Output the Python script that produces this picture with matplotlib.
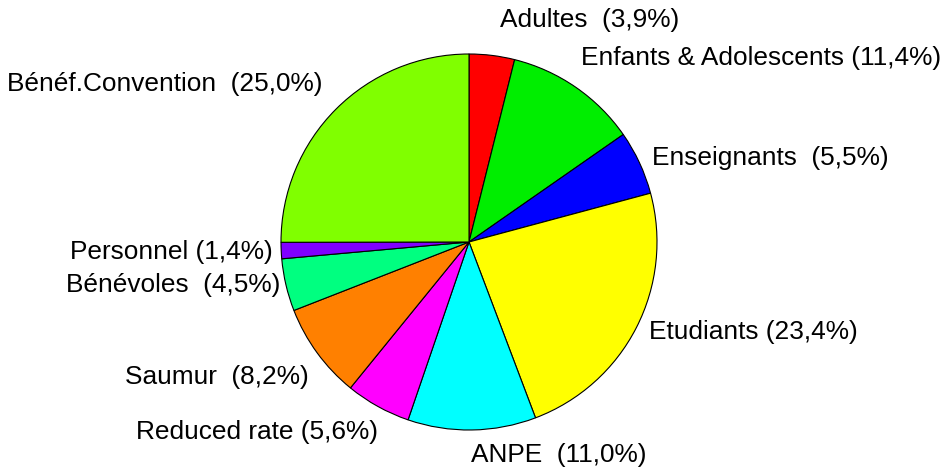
import matplotlib.pyplot as plt

# parts of the audience, clockwise from the top
labels = ['Adultes  (3,9%)', 'Enfants & Adolescents (11,4%)', 'Enseignants  (5,5%)',
          'Etudiants (23,4%)', 'ANPE  (11,0%)', 'Reduced rate (5,6%)', 'Saumur  (8,2%)',
          'Bénévoles  (4,5%)', 'Personnel (1,4%)', 'Bénéf.Convention  (25,0%)']
shares = [3.9, 11.4, 5.5, 23.4, 11.0, 5.6, 8.2, 4.5, 1.4, 25.0]
colors = ['#ff0000', '#00ee00', '#0000ff', '#ffff00', '#00ffff', '#ff00ff', '#ff8000',
          '#00ff80', '#8000ff', '#80ff00']
# label anchors (left edge, middle), in pixels from top-left
label_x = [500, 581, 652, 649, 471, 136, 125, 66, 70, 7]
label_y = [20, 58, 158, 332, 455, 432, 377, 285, 252, 84]

W, H = 948, 468
fig = plt.figure(figsize=(W / 100, H / 100), dpi=100)
ax = fig.add_axes([0, 0, 1, 1])

ax.pie(shares, colors=colors, startangle=90, counterclock=False,
       center=(469, H - 242), radius=188,
       wedgeprops=dict(edgecolor='black', linewidth=0.8))

for lab, x, y in zip(labels, label_x, label_y):
    ax.text(x, H - y, lab, ha='left', va='center', fontsize=18.9,
            family='Liberation Sans', color='black')

ax.set_xlim(0, W)
ax.set_ylim(0, H)
ax.set_aspect('equal')
ax.axis('off')

fig.savefig('out.png', dpi=100)
